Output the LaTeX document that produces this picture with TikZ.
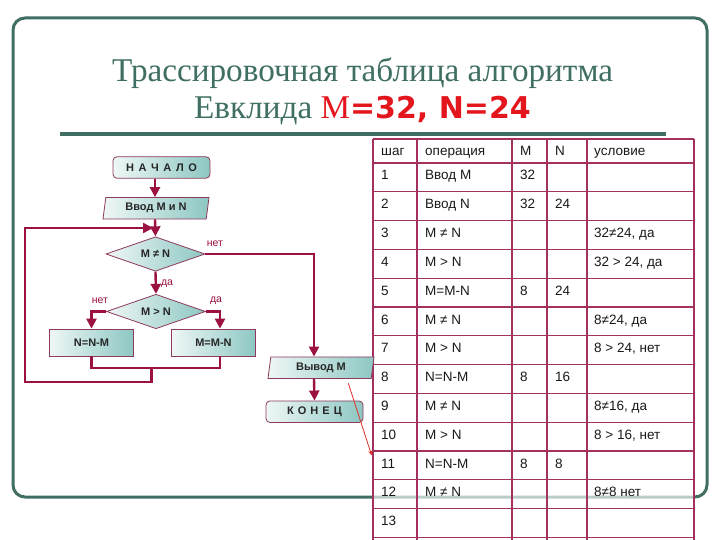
\documentclass[tikz,border=0pt]{standalone}
\usepackage{fontspec}
\setmainfont{Liberation Sans}
\newfontfamily\titlefont{Liberation Serif}
\newfontfamily\heavysans{DejaVu Sans}
\usetikzlibrary{shapes.geometric,arrows.meta}

\definecolor{frameteal}{HTML}{3F6E63}
\definecolor{linkred}{HTML}{9B1142}
\definecolor{gridred}{HTML}{A3305E}
\definecolor{boxline}{HTML}{8E3A5C}
\definecolor{boxlight}{HTML}{EEF7F6}
\definecolor{boxdark}{HTML}{8DC7C2}
\definecolor{titlered}{HTML}{E3161D}
\definecolor{hintred}{HTML}{E0302A}

\tikzset{
  box/.style={draw=boxline, line width=0.8pt, left color=boxlight, right color=boxdark,
    inner sep=0pt, text=black!85, font=\fontsize{11}{13}\selectfont\bfseries},
  term/.style={box, rounded corners=4pt, minimum width=97pt, minimum height=21.5pt},
  io/.style={box, trapezium, trapezium left angle=74, trapezium right angle=106,
    trapezium stretches body, minimum width=106pt, minimum height=21.5pt},
  proc/.style={box, minimum width=84pt, minimum height=27pt},
  cond/.style={box, diamond, aspect=2.9, minimum width=99pt, minimum height=34.5pt},
  link/.style={draw=linkred, line width=2.4pt, -{Triangle[length=10pt,width=10pt]}},
  wire/.style={draw=linkred, line width=2.4pt},
  lbl/.style={text=linkred, inner sep=0pt, font=\fontsize{10.5}{12}\selectfont},
  cell/.style={anchor=base west, inner sep=0pt, text=black!90, font=\fontsize{13.5}{16}\selectfont},
  gridline/.style={draw=gridred, line width=1.2pt},
}

\begin{document}
\begin{tikzpicture}[x=1pt, y=-1pt]
  \clip (0,0) rectangle (720,540);
  \fill[white] (0,0) rectangle (720,540);

  % Frame and title
  \draw[frameteal, line width=3pt, rounded corners=12pt] (13,18) rectangle (707,497);
  \node[anchor=base, inner sep=0pt, text=frameteal, font=\titlefont\fontsize{33.2}{38}\selectfont]
    (title1) at (362.5,82) {Трассировочная таблица алгоритма};
  \node[anchor=base, inner sep=0pt, text=frameteal, font=\titlefont\fontsize{33.2}{38}\selectfont]
    (title2) at (362.5,119) {Евклида {\color{titlered}M}{\heavysans\bfseries\fontsize{30}{36}\selectfont\color{titlered}=32, N=24}};
  \draw[frameteal, line width=3.5pt] (60,134) -- (666,134);

  % Trace table
  \fill[white, fill opacity=0.65] (373,139) rectangle (694,560);
  \foreach \x in {373,417,512,547,587,694}
    \draw[gridline] (\x,139) -- (\x,560);
  \draw[gridline] (373,139) -- (694,139);
  \foreach \r in {0,...,14}
    \draw[gridline] (373,{163+28.8*\r}) -- (694,{163+28.8*\r});

  \node[cell] (h-step) at (381,156) {шаг};
  \node[cell] (h-op) at (425,156) {операция};
  \node[cell] (h-m) at (520,156) {M};
  \node[cell] (h-n) at (555,156) {N};
  \node[cell] (h-cond) at (594,156) {условие};

  \foreach \st/\op/\vm/\vn/\cnd [count=\i] in {
      1/Ввод M/32//, 2/Ввод N/32/24/, 3/M ≠ N///{32≠24, да}, 4/M > N///{32 > 24, да},
      5/M=M-N/8/24/, 6/M ≠ N///{8≠24, да}, 7/M > N///{8 > 24, нет}, 8/N=N-M/8/16/,
      9/M ≠ N///{8≠16, да}, 10/M > N///{8 > 16, нет}, 11/N=N-M/8/8/, 12/M ≠ N///8≠8 нет,
      13////}
  {
    \pgfmathsetmacro\rowy{163+28.8*(\i-1)+17}
    \node[cell] (step-\i) at (381,\rowy) {\st};
    \node[cell] (op-\i) at (425,\rowy) {\op};
    \node[cell] (m-\i) at (520,\rowy) {\vm};
    \node[cell] (n-\i) at (555,\rowy) {\vn};
    \node[cell] (cond-\i) at (594,\rowy) {\cnd};
  }

  % Flowchart
  \coordinate (axis) at (155,0);
  \coordinate (outx) at (314,0);
  \coordinate (rx) at (220,0);
  \coordinate (bot) at (0,368);
  \coordinate (mid) at (151.5,368);
  \coordinate (low) at (25,382);
  \coordinate (join) at (153,228);

  \node[term] (start) at (161.5,167.5) {\spaceskip=4.6pt Н А Ч А Л О};
  \node[io] (in) at (156,208.3) {Ввод M и N};
  \node[cond] (ne) at (155.5,254) {M ≠ N};
  \node[cond] (gt) at (156,311.5) {M > N};
  \node[proc] (nm) at (91.5,342.5) {N=N-M};
  \node[proc] (mn) at (213.5,342.5) {M=M-N};
  \node[io] (out) at (321,367.7) {Вывод M};
  \node[term] (end) at (314.5,411.7) {\spaceskip=4pt К О Н Е Ц};

  \draw[link] (start.south -| axis) -- (in.north -| axis);
  \draw[link] (in.south -| axis) -- (ne.north);
  \draw[link] (ne.east) -| (out.north -| outx);
  \draw[link] (ne.south) -- (gt.north);
  \draw[link] (gt.west) -| (nm.north);
  \draw[link] (gt.east) -| (mn.north -| rx);
  \draw[wire] (nm.south) -- (nm.south |- bot) -| (mn.south -| rx);
  \draw[link] (mid) |- (low) |- (join);
  \draw[link] (out.south -| outx) -- (end.north);

  \node[lbl] (no1) at (215,243.3) {нет};
  \node[lbl] (yes1) at (167,284) {да};
  \node[lbl] (no2) at (100,300.7) {нет};
  \node[lbl] (yes2) at (216,300.7) {да};

  % Pointer to the table
  \coordinate (hintA) at (348.3,383.3);
  \coordinate (hintB) at (371.7,455.5);
  \draw[hintred, line width=0.8pt, -{Stealth[length=5pt,width=4pt]}] (hintA) -- (hintB);
\end{tikzpicture}
\end{document}
